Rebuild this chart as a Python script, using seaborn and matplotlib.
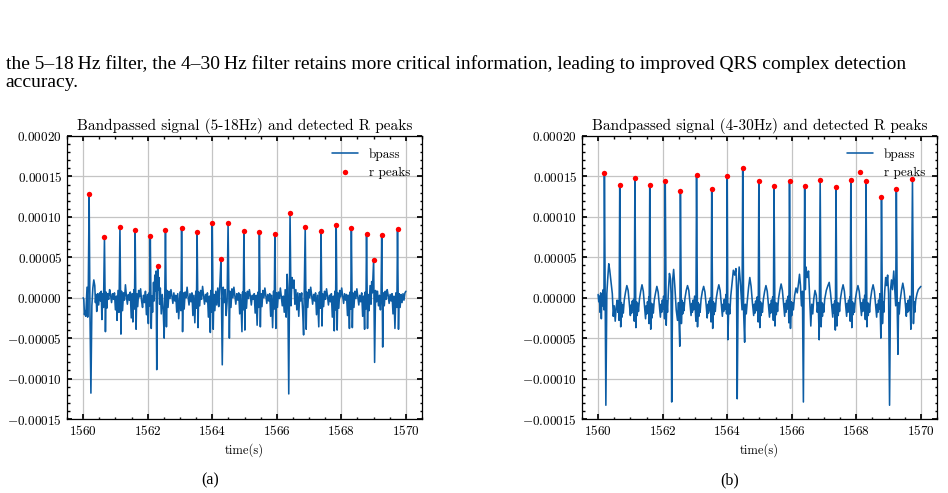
import numpy as np
import pandas as pd
import matplotlib
matplotlib.use("Agg")
import matplotlib.pyplot as plt
import seaborn as sns
from matplotlib.ticker import AutoMinorLocator, MultipleLocator

# --- data (time in s after T0, amplitude in units of 1e-5) ---
T0 = 1560.0
SCALE = 1e-5

# (a) bandpassed 5-18 Hz
t_a = [
    0.00, 0.02, 0.04, 0.06, 0.08, 0.10, 0.12, 0.14, 0.16,
    0.185, 0.21, 0.24, 0.27, 0.30, 0.33, 0.36, 0.38, 0.40, 0.42, 0.45, 0.48, 0.51, 0.54, 0.56, 0.58, 0.61, 0.63,
    0.66, 0.69, 0.71, 0.73, 0.76, 0.79, 0.82, 0.85, 0.88, 0.91, 0.94, 0.97, 1.00, 1.03, 1.05, 1.08, 1.11,
    1.14, 1.17, 1.19, 1.22, 1.25, 1.28, 1.31, 1.34, 1.37, 1.40, 1.43, 1.46, 1.49, 1.52, 1.54, 1.57, 1.59,
    1.61, 1.64, 1.66, 1.69, 1.72, 1.75, 1.78, 1.81, 1.84, 1.87, 1.90, 1.93, 1.96, 1.99, 2.02, 2.04, 2.06,
    2.08, 2.11, 2.13, 2.15, 2.18, 2.20, 2.22, 2.24, 2.26, 2.28, 2.31, 2.33, 2.35, 2.37, 2.39, 2.42, 2.45, 2.48, 2.51, 2.53,
    2.55, 2.58, 2.60, 2.63, 2.66, 2.69, 2.72, 2.75, 2.78, 2.81, 2.84, 2.87, 2.90, 2.93, 2.96, 3.00, 3.03,
    3.05, 3.08, 3.10, 3.13, 3.16, 3.19, 3.22, 3.25, 3.28, 3.31, 3.34, 3.37, 3.40, 3.43, 3.46, 3.49, 3.51,
    3.53, 3.56, 3.58, 3.61, 3.64, 3.67, 3.70, 3.73, 3.76, 3.79, 3.82, 3.85, 3.88, 3.91, 3.94, 3.96, 3.98,
    4.00, 4.03, 4.05, 4.08, 4.11, 4.14, 4.17, 4.20, 4.22, 4.24, 4.27, 4.31, 4.34, 4.37, 4.40, 4.43, 4.46,
    4.49, 4.53, 4.55, 4.58, 4.61, 4.64, 4.67, 4.70, 4.73, 4.76, 4.79, 4.82, 4.85, 4.88, 4.92, 4.94, 4.96,
    4.98, 5.01, 5.03, 5.06, 5.09, 5.12, 5.15, 5.18, 5.21, 5.24, 5.27, 5.30, 5.33, 5.36, 5.39, 5.42, 5.44,
    5.46, 5.49, 5.51, 5.54, 5.57, 5.60, 5.63, 5.66, 5.69, 5.72, 5.75, 5.78, 5.81, 5.84, 5.87, 5.90, 5.92,
    5.94, 5.97, 5.99, 6.02, 6.05, 6.08, 6.11, 6.14, 6.17, 6.20, 6.23, 6.26, 6.29, 6.32, 6.34, 6.37,
    6.41, 6.44, 6.47, 6.50, 6.53, 6.56, 6.59, 6.62, 6.65, 6.68, 6.71, 6.74, 6.77, 6.80, 6.83, 6.85,
    6.88, 6.91, 6.93, 6.96, 6.99, 7.02, 7.05, 7.08, 7.11, 7.14, 7.17, 7.20, 7.23, 7.26, 7.30, 7.32, 7.35,
    7.37, 7.40, 7.42, 7.45, 7.48, 7.51, 7.54, 7.57, 7.60, 7.63, 7.66, 7.69, 7.72, 7.75, 7.78, 7.80, 7.82,
    7.84, 7.87, 7.89, 7.92, 7.95, 7.98, 8.01, 8.04, 8.07, 8.10, 8.13, 8.16, 8.19, 8.22, 8.25, 8.27, 8.29,
    8.31, 8.34, 8.36, 8.39, 8.42, 8.45, 8.48, 8.51, 8.54, 8.57, 8.60, 8.63, 8.66, 8.69, 8.72, 8.74, 8.76,
    8.78, 8.81, 8.83, 8.86, 8.89, 8.92, 8.94, 8.96, 8.98, 9.00, 9.03, 9.06, 9.09, 9.12, 9.15, 9.18, 9.21, 9.23,
    9.25, 9.28, 9.30, 9.33, 9.36, 9.39, 9.42, 9.45, 9.48, 9.51, 9.54, 9.57, 9.60, 9.63, 9.66, 9.69, 9.72,
    9.74, 9.77, 9.79, 9.82, 9.85, 9.88, 9.91, 9.94, 9.97, 10.00,
]
v_a = [
    0.0, -0.2, -2.1, -1.6, -2.3, -0.5, 1.3, -2.4, 1.6,
    12.8, -1.5, -11.8, -1.0, 1.2, 2.2, 1.5, -0.6, 0.4, -1.7, 0.5, -0.9, 0.6, -0.4, 0.8, -2.7, 0.5, -1.2,
    7.5, -4.2, 0.7, -1.3, 0.5, -0.2, 1.0, 0.3, -0.6, 0.5, -0.2, 0.6, -1.5, 0.2, -2.8, 0.9, -1.8,
    8.7, -4.5, 0.8, -1.6, 0.6, -0.3, 1.6, 0.2, -0.8, 0.4, -0.3, 0.7, -2.5, 0.5, -3.0, 1.0, -1.4,
    8.4, -3.9, 0.5, -1.1, 0.9, 0.1, 1.1, -0.4, -1.2, 0.3, -0.6, 0.8, -2.1, 0.4, -3.2, 0.6, -1.0,
    7.6, -3.8, 0.2, -1.8, 1.9, -0.4, 2.8, 0.8, 3.3, -8.9, 3.9, 1.0, 2.5, -0.8, 1.2, -2.0, 0.4, -1.5, -5.0, 0.5,
    8.4, -3.6, 0.9, -1.2, 0.8, -0.1, 1.0, 0.2, -0.7, 0.6, -0.4, 0.3, -1.8, 0.5, -2.6, 0.7, -1.6,
    8.6, -4.2, 0.6, -1.4, 0.7, 0.0, 1.3, 0.1, -0.9, 0.5, -0.5, 0.6, -2.2, 0.3, -3.1, 0.8, -1.3,
    8.1, -3.7, 0.7, -1.0, 0.9, -0.2, 1.4, 0.3, -0.8, 0.4, -0.5, 0.6, -2.4, 0.2, -4.3, 0.9, -1.8,
    9.2, -3.9, 0.4, -1.6, 0.8, -0.9, 1.2, -1.1, 0.6, 2.0, 4.8, -8.3, 1.3, -0.6, 1.0, -2.2, -0.5,
    9.2, -5.0, 0.8, -1.2, 1.1, 0.0, 1.3, 0.2, -0.8, 0.5, -0.3, 0.6, -2.0, 0.4, -4.2, 0.7, -1.5,
    8.2, -4.0, 0.6, -1.3, 0.8, -0.1, 1.0, 0.2, -0.9, 0.3, -0.2, 0.5, -1.9, 0.3, -3.4, 0.7, -1.2,
    8.1, -3.6, 0.5, -1.1, 0.9, 0.0, 1.2, 0.3, -0.7, 0.4, -0.4, 0.5, -2.3, 0.3, -3.7, 0.8, -1.4,
    7.9, -3.8, 0.6, -1.2, 0.7, -0.1, 1.2, 0.1, -1.0, 0.2, -1.8, 1.0, -2.4, 2.9, 1.2, -11.9,
    10.5, -1.0, 2.5, 1.2, 2.2, -0.8, 1.0, -1.5, 0.6, -2.3, 0.5, -0.4, 0.6, -1.6, -4.6, 0.6,
    8.7, -3.9, 0.7, -1.2, 1.0, 0.0, 1.3, 0.2, -0.8, 0.4, -0.4, 0.6, -2.1, 0.3, -3.6, 0.7, -1.3,
    8.3, -3.5, 0.5, -1.1, 0.8, -0.2, 1.1, 0.2, -0.9, 0.3, -0.5, 0.5, -2.4, 0.2, -4.1, 0.8, -1.5,
    9.0, -4.0, 0.6, -1.3, 0.9, 0.1, 1.2, 0.2, -0.7, 0.5, -0.3, 0.4, -2.2, 0.3, -3.8, 0.7, -1.4,
    8.6, -3.7, 0.6, -1.2, 0.8, -0.1, 1.1, 0.1, -0.9, 0.3, -0.5, 0.6, -2.3, 0.2, -3.9, 0.7, -1.4,
    7.9, -3.8, 0.4, -1.6, 1.5, -0.8, 2.0, 0.6, 2.7, 4.7, -8.0, 0.9, -0.5, 0.8, -1.0, 0.3, -1.5, 0.4,
    7.7, -6.1, 0.6, -1.0, 0.8, -0.2, 1.0, 0.3, -0.7, 0.4, -0.4, 0.5, -2.0, 0.2, -3.8, 0.6, -1.2,
    8.5, -3.9, 0.5, -1.2, 0.4, -0.6, 0.5, -0.3, 0.6, 0.8,
]
peaks_t_a = [0.185, 0.66, 1.14, 1.61, 2.08, 2.31, 2.55, 3.05, 3.53, 4.00, 4.27, 4.49,
             4.98, 5.46, 5.94, 6.41, 6.88, 7.37, 7.84, 8.31, 8.78, 9.00, 9.25, 9.74]
peaks_v_a = [12.8, 7.5, 8.7, 8.4, 7.6, 3.9, 8.4, 8.6, 8.1, 9.2, 4.8, 9.2,
             8.2, 8.1, 7.9, 10.5, 8.7, 8.3, 9.0, 8.6, 7.9, 4.7, 7.7, 8.5]

# (b) bandpassed 4-30 Hz
t_b = [
    0.00, 0.02, 0.04, 0.06, 0.08, 0.10, 0.12, 0.14, 0.16, 0.18,
    0.195, 0.24, 0.27, 0.30, 0.33, 0.36, 0.40, 0.44, 0.47, 0.50, 0.53, 0.56, 0.59, 0.61, 0.63, 0.65,
    0.67, 0.70, 0.72, 0.74, 0.76, 0.78, 0.81, 0.85, 0.89, 0.93, 0.97, 1.00, 1.02, 1.04, 1.06, 1.08, 1.10, 1.12,
    1.14, 1.17, 1.19, 1.21, 1.23, 1.25, 1.28, 1.32, 1.36, 1.40, 1.44, 1.47, 1.49, 1.51, 1.53, 1.55, 1.57, 1.58,
    1.60, 1.63, 1.65, 1.67, 1.69, 1.71, 1.74, 1.78, 1.82, 1.86, 1.90, 1.93, 1.95, 1.97, 1.99, 2.01, 2.03, 2.06,
    2.08, 2.11, 2.13, 2.15, 2.18, 2.21, 2.24, 2.26, 2.28, 2.31, 2.34, 2.38, 2.42, 2.46, 2.49, 2.53,
    2.55, 2.58, 2.60, 2.62, 2.64, 2.66, 2.69, 2.73, 2.77, 2.81, 2.85, 2.88, 2.90, 2.92, 2.94, 2.96, 2.99, 3.03,
    3.05, 3.08, 3.10, 3.12, 3.14, 3.16, 3.19, 3.23, 3.27, 3.31, 3.35, 3.38, 3.40, 3.42, 3.44, 3.46, 3.48, 3.50,
    3.52, 3.55, 3.57, 3.59, 3.61, 3.63, 3.66, 3.70, 3.74, 3.78, 3.82, 3.85, 3.87, 3.89, 3.91, 3.93, 3.96, 3.98,
    4.00, 4.02, 4.05, 4.08, 4.11, 4.15, 4.19, 4.23, 4.27, 4.29, 4.31, 4.34, 4.37, 4.40, 4.43, 4.46,
    4.48, 4.51, 4.54, 4.56, 4.59, 4.62, 4.66, 4.70, 4.74, 4.78, 4.82, 4.84, 4.86, 4.88, 4.90, 4.93, 4.96,
    4.98, 5.01, 5.03, 5.05, 5.07, 5.09, 5.12, 5.16, 5.20, 5.24, 5.28, 5.31, 5.33, 5.35, 5.37, 5.39, 5.41, 5.43,
    5.45, 5.48, 5.50, 5.52, 5.54, 5.56, 5.59, 5.63, 5.67, 5.71, 5.75, 5.78, 5.80, 5.82, 5.84, 5.86, 5.89, 5.91,
    5.93, 5.96, 5.98, 6.00, 6.02, 6.05, 6.09, 6.13, 6.17, 6.21, 6.24, 6.27, 6.30, 6.33, 6.36,
    6.40, 6.42, 6.44, 6.48, 6.52, 6.55, 6.59, 6.62, 6.65, 6.68, 6.72, 6.76, 6.79, 6.82, 6.85,
    6.88, 6.91, 6.93, 6.95, 6.97, 6.99, 7.02, 7.07, 7.12, 7.16, 7.20, 7.24, 7.27, 7.29, 7.31, 7.33, 7.35,
    7.37, 7.40, 7.42, 7.44, 7.46, 7.48, 7.51, 7.55, 7.59, 7.63, 7.67, 7.70, 7.72, 7.74, 7.76, 7.78, 7.80, 7.81,
    7.83, 7.86, 7.88, 7.90, 7.92, 7.94, 7.97, 8.01, 8.05, 8.09, 8.13, 8.16, 8.18, 8.20, 8.22, 8.24, 8.26, 8.28,
    8.30, 8.33, 8.35, 8.37, 8.39, 8.41, 8.44, 8.48, 8.52, 8.56, 8.60, 8.63, 8.65, 8.67, 8.69, 8.71, 8.73, 8.76,
    8.78, 8.81, 8.83, 8.85, 8.88, 8.91, 8.94, 8.97, 9.00, 9.03, 9.06, 9.09, 9.12, 9.16, 9.19, 9.22,
    9.24, 9.27, 9.29, 9.31, 9.33, 9.36, 9.40, 9.44, 9.48, 9.52, 9.55, 9.57, 9.59, 9.61, 9.63, 9.66, 9.69, 9.71,
    9.74, 9.77, 9.79, 9.81, 9.84, 9.88, 9.92, 9.96, 10.00,
]
v_b = [
    0.4, -0.5, 0.2, -1.8, 0.6, -2.6, 0.3, -1.0, 1.0, -1.5,
    15.4, -13.3, 0.5, 2.5, 4.2, 3.4, 2.0, 0.5, -2.3, -1.0, -2.9, -1.2, -0.3, -1.8, -0.4, -2.8,
    14.0, -3.6, -0.6, -2.4, -0.9, -1.9, -0.3, 0.7, 1.5, 0.9, -0.9, -2.2, -0.9, -1.9, -0.4, -1.5, -0.2, -2.9,
    14.8, -3.7, -0.5, -2.2, -0.7, -1.7, -0.2, 0.8, 1.6, 0.8, -1.1, -2.6, -1.0, -2.0, -0.5, -1.6, 0.1, -3.2,
    14.0, -3.9, -0.7, -2.5, -0.8, -1.9, -0.3, 0.6, 1.4, 0.7, -1.0, -2.4, -0.8, -1.8, -0.3, -1.4, 0.2, -2.6,
    14.4, -3.4, -0.4, -1.8, 1.0, 3.0, 2.4, 0.5, -12.9, 2.2, 3.5, 1.2, -1.5, -2.8, -0.6, -6.0,
    13.2, -3.2, -0.3, -2.0, -0.6, -1.6, -0.1, 0.9, 1.5, 0.9, -0.8, -2.2, -0.7, -1.8, -0.3, -1.5, 0.2, -2.9,
    15.2, -3.6, -0.6, -2.3, -0.8, -1.8, -0.2, 0.8, 1.4, 0.7, -1.0, -2.5, -0.8, -1.9, -0.4, -1.6, 0.0, -3.0,
    13.5, -3.8, -0.5, -2.1, -0.7, -1.7, -0.1, 0.9, 1.6, 0.9, -0.9, -2.3, -0.8, -1.7, -0.2, -1.4, 0.4, -2.0,
    15.0, -5.2, -0.8, -2.0, 0.2, 1.8, 3.4, 2.8, 3.6, 1.0, -12.5, 1.5, 3.8, 2.3, 0.5, -1.5,
    16.1, -2.0, -5.5, -0.8, -2.0, -0.5, 1.2, 2.5, 1.4, -0.6, -2.2, -0.8, -1.9, -0.4, -1.6, 0.1, -3.0,
    14.4, -3.7, -0.5, -2.2, -0.7, -1.8, -0.2, 0.8, 1.5, 0.8, -1.0, -2.4, -0.8, -1.9, -0.3, -1.5, 0.1, -2.8,
    13.8, -3.5, -0.6, -2.1, -0.7, -1.7, -0.1, 0.9, 1.7, 0.9, -0.9, -2.3, -0.7, -1.8, -0.3, -1.4, 0.2, -3.1,
    14.4, -3.8, -0.5, -2.2, -0.6, -1.5, 0.3, 1.2, 0.6, 1.8, 2.9, 1.5, -1.0, 0.8, -12.9,
    13.8, 1.0, 3.8, 2.5, 3.3, 0.5, -3.5, -0.8, -2.0, -0.2, 0.9, 0.3, -1.8, -0.6, -5.2,
    14.6, -3.6, -0.6, -2.3, -0.8, -1.8, -0.2, 0.9, 1.5, 1.9, 0.6, -1.2, -2.4, -0.8, -1.9, -0.4, -4.0,
    13.7, -3.5, -0.6, -2.2, -0.7, -1.7, -0.1, 0.9, 1.6, 0.8, -0.9, -2.3, -0.7, -1.8, -0.3, -1.5, 0.1, -2.9,
    14.6, -3.7, -0.5, -2.1, -0.7, -1.8, -0.2, 0.8, 1.5, 0.8, -0.9, -2.2, -0.6, -1.7, -0.2, -1.4, 0.3, -2.7,
    14.4, -3.6, -0.6, -2.2, -0.8, -1.8, -0.2, 0.9, 1.6, 0.8, -1.0, -2.4, -0.8, -1.8, -0.3, -1.4, 0.5, -5.0,
    12.5, -3.2, -0.5, -1.8, 0.8, 2.5, 1.5, 2.8, 0.5, -13.3, 1.0, 2.2, 1.0, 3.3, 1.2, -1.0,
    13.5, -2.0, -7.0, -0.6, -2.0, -0.3, 0.9, 1.8, 0.9, -0.8, -2.3, -0.7, -1.8, -0.3, -1.6, 0.2, -3.9, -0.8,
    14.7, -3.2, -0.5, -1.8, -0.3, 0.5, 1.0, 1.2, 1.4,
]
peaks_t_b = [0.195, 0.67, 1.14, 1.60, 2.08, 2.55, 3.05, 3.52, 4.00, 4.48, 4.98,
             5.45, 5.93, 6.40, 6.88, 7.37, 7.83, 8.30, 8.78, 9.24, 9.74]
peaks_v_b = [15.4, 14.0, 14.8, 14.0, 14.4, 13.2, 15.2, 13.5, 15.0, 16.1, 14.4,
             13.8, 14.4, 13.8, 14.6, 13.7, 14.6, 14.4, 12.5, 13.5, 14.7]

titles = ["Bandpassed signal (5-18Hz) and detected R peaks",
          "Bandpassed signal (4-30Hz) and detected R peaks"]
captions = ["(a)", "(b)"]
page_lines = ["the 5\u201318\u2009Hz filter, the 4\u201330\u2009Hz filter retains more critical information, "
              "leading to improved QRS complex detection",
              "accuracy."]

# --- style ---
sns.set_theme(style="ticks")
plt.rcParams.update({
    "font.family": ["cmr10", "DejaVu Serif"],
    "mathtext.fontset": "cm",
    "axes.formatter.use_mathtext": True,
    "axes.unicode_minus": True,
    "text.color": "black",
    "axes.labelcolor": "black",
    "axes.edgecolor": "black",
    "axes.linewidth": 0.9,
    "xtick.direction": "in", "ytick.direction": "in",
    "xtick.top": True, "ytick.right": True,
    "xtick.major.size": 3.5, "ytick.major.size": 3.5,
    "xtick.minor.size": 1.8, "ytick.minor.size": 1.8,
    "xtick.minor.visible": True, "ytick.minor.visible": True,
    "xtick.labelsize": 9.5, "ytick.labelsize": 9.5,
    "xtick.color": "black", "ytick.color": "black",
})

fig = plt.figure(figsize=(9.48, 4.93), dpi=100)
axes = [fig.add_axes([0.0707, 0.1501, 0.3745, 0.5740]),
        fig.add_axes([0.6139, 0.1501, 0.3745, 0.5740])]

sets = [(t_a, v_a, peaks_t_a, peaks_v_a), (t_b, v_b, peaks_t_b, peaks_v_b)]
for ax, (t, v, pt, pv), title in zip(axes, sets, titles):
    sig = pd.DataFrame({"time": np.array(t) + T0, "amp": np.array(v) * SCALE})
    pk = pd.DataFrame({"time": np.array(pt) + T0, "amp": np.array(pv) * SCALE})
    sns.lineplot(data=sig, x="time", y="amp", ax=ax, color="#0C5DA5", lw=1.15,
                 estimator=None, sort=False, label="bpass")
    sns.scatterplot(data=pk, x="time", y="amp", ax=ax, color="red", s=15,
                    linewidth=0, zorder=3, label="r peaks")
    ax.set_xlim(1559.5, 1570.5)
    ax.set_ylim(-0.00015, 0.0002)
    ax.xaxis.set_major_locator(MultipleLocator(2))
    ax.yaxis.set_major_locator(MultipleLocator(0.00005))
    ax.xaxis.set_minor_locator(AutoMinorLocator(4))
    ax.yaxis.set_minor_locator(AutoMinorLocator(5))
    ax.grid(True, color="#c4c4c4", lw=0.9)
    ax.set_axisbelow(True)
    ax.set_title(title, fontsize=11, pad=4)
    ax.set_xlabel("time(s)", fontsize=9)
    ax.set_ylabel("")
    ax.legend(loc="upper right", frameon=False, fontsize=9.5, handlelength=2.0,
              borderaxespad=0.5, handletextpad=0.8, labelspacing=0.45)

serif = ["Liberation Serif", "DejaVu Serif"]
fig.text(0.006, 0.861, page_lines[0], family=serif, fontsize=14.0, va="baseline")
fig.text(0.006, 0.823, page_lines[1], family=serif, fontsize=14.0, va="baseline")
fig.text(0.2215, 0.018, captions[0], family=serif, fontsize=11.5, ha="center", va="baseline")
fig.text(0.770, 0.018, captions[1], family=serif, fontsize=11.5, ha="center", va="baseline")

fig.savefig("out.png", dpi=100, facecolor="white")
